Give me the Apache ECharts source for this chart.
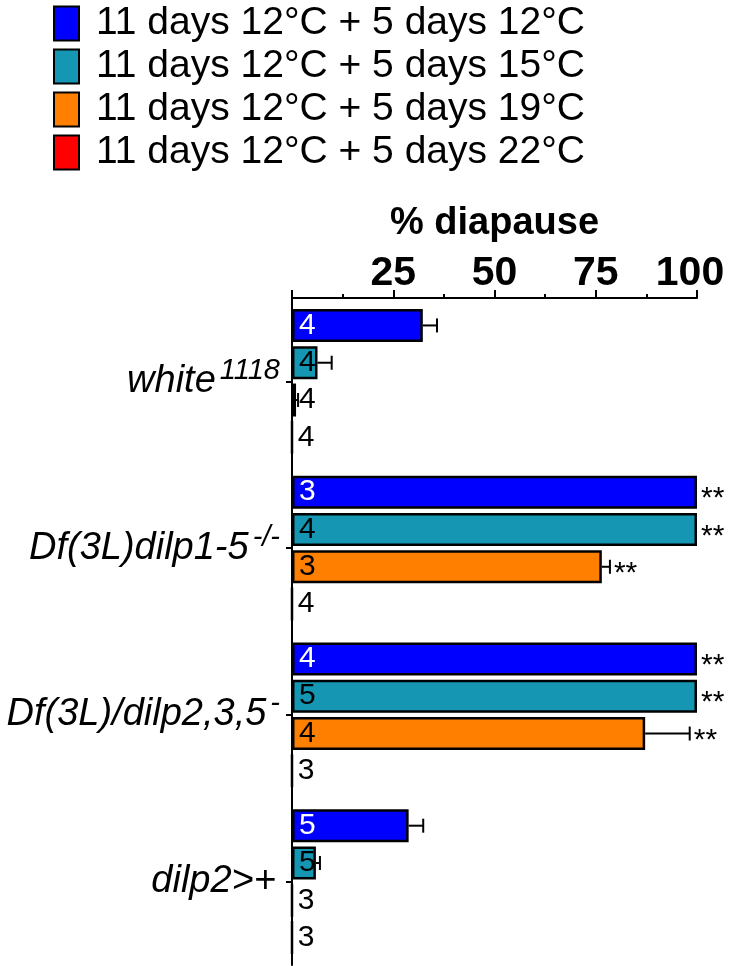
<!DOCTYPE html>
<html>
<head>
<meta charset="utf-8">
<script src="https://cdn.jsdelivr.net/npm/echarts@6/dist/echarts.min.js"></script>
<style>
  html, body { margin: 0; padding: 0; background: #fff; }
  #chart { width: 729px; height: 966px; }
</style>
</head>
<body>
<div id="chart"></div>
<script>
// genotypes (label + superscript)
var catNames = ['white', 'Df(3L)dilp1-5', 'Df(3L)/dilp2,3,5', 'dilp2>+'];
var catSups = ['1118', '-/-', '-', ''];

var seriesNames = [
  '11 days 12°C + 5 days 12°C',
  '11 days 12°C + 5 days 15°C',
  '11 days 12°C + 5 days 19°C',
  '11 days 12°C + 5 days 22°C'
];

// % diapause
var d12 = [32.3, 100, 100, 28.8];
var d15 = [6.3, 100, 100, 5.9];
var d19 = [1.0, 76.5, 87.2, 0];
var d22 = [0, 0, 0, 0];

// SEM
var e12 = [3.5, 0, 0, 3.6];
var e15 = [3.5, 0, 0, 1.0];
var e19 = [0.5, 2.0, 11.0, 0];
var e22 = [0, 0, 0, 0];

// n per bar
var n12 = [4, 3, 4, 5];
var n15 = [4, 4, 5, 5];
var n19 = [4, 3, 4, 3];
var n22 = [4, 4, 3, 3];

// significance marks
var s12 = ['', '**', '**', ''];
var s15 = ['', '**', '**', ''];
var s19 = ['', '**', '**', ''];
var s22 = ['', '', '', ''];

var xTicks = [0, 25, 50, 75, 100];

var colors = ['#0000ff', '#1597b3', '#ff8000', '#ff0000'];
var labelColors = ['#ffffff', '#000000', '#000000', '#000000'];

var FONT = '"Liberation Sans", Arial, Helvetica, sans-serif';
var BAR_W = 33;
var BAR_GAP = 0.13;

var values = [d12, d15, d19, d22];
var errs = [e12, e15, e19, e22];
var ns = [n12, n15, n19, n22];
var sigs = [s12, s15, s19, s22];

function barOffset(i) {
  var pitch = BAR_W * (1 + BAR_GAP);
  var total = 4 * BAR_W + 3 * BAR_W * BAR_GAP;
  return -total / 2 + i * pitch + BAR_W / 2;
}

var series = [];
values.forEach(function (vals, i) {
  series.push({
    name: seriesNames[i],
    type: 'bar',
    barWidth: BAR_W,
    barGap: (BAR_GAP * 100) + '%',
    data: vals,
    itemStyle: { color: colors[i], borderColor: '#000', borderWidth: 2.5 },
    label: {
      show: true,
      position: 'insideLeft',
      distance: 7,
      color: labelColors[i],
      fontFamily: FONT,
      fontSize: 30,
      formatter: function (p) { return String(ns[i][p.dataIndex]); }
    },
    emphasis: { disabled: true },
    z: 2
  });
});

// error bars and significance
var errData = [];
values.forEach(function (vals, i) {
  vals.forEach(function (v, j) {
    errData.push([v, j, errs[i][j], i, sigs[i][j]]);
  });
});

series.push({
  type: 'custom',
  data: errData,
  encode: { x: 0, y: 1 },
  z: 3,
  silent: true,
  renderItem: function (params, api) {
    var v = api.value(0);
    var cat = api.value(1);
    var err = api.value(2);
    var si = api.value(3);
    var sig = errData[params.dataIndex][4];
    var p0 = api.coord([v, cat]);
    var p1 = api.coord([v + err, cat]);
    var y = p0[1] + barOffset(si);
    var children = [];
    if (err > 0) {
      children.push({
        type: 'line',
        shape: { x1: p0[0], y1: y, x2: p1[0], y2: y },
        style: { stroke: '#000', lineWidth: 2 }
      });
      children.push({
        type: 'line',
        shape: { x1: p1[0], y1: y - 7, x2: p1[0], y2: y + 7 },
        style: { stroke: '#000', lineWidth: 2 }
      });
    }
    if (sig) {
      children.push({
        type: 'text',
        style: {
          text: sig,
          x: p1[0] + 4,
          y: y + 7,
          align: 'left',
          verticalAlign: 'middle',
          fill: '#000',
          font: '30px ' + FONT
        }
      });
    }
    return { type: 'group', children: children };
  }
});

var chart = echarts.init(document.getElementById('chart'), null, { renderer: 'canvas' });
chart.setOption({
  animation: false,
  backgroundColor: '#fff',
  textStyle: { fontFamily: FONT },
  legend: {
    orient: 'vertical',
    left: 53,
    top: 4,
    padding: 0,
    itemWidth: 25,
    itemHeight: 34,
    itemGap: 4,
    icon: 'rect',
    selectedMode: false,
    data: seriesNames,
    textStyle: {
      fontFamily: FONT,
      fontSize: 39,
      color: '#000',
      lineHeight: 37,
      padding: [0, 0, 0, 12]
    }
  },
  grid: {
    left: 292,
    right: 32,
    top: 298,
    bottom: 1,
    containLabel: false
  },
  xAxis: {
    type: 'value',
    position: 'top',
    min: xTicks[0],
    max: xTicks[xTicks.length - 1],
    interval: 25,
    name: '% diapause',
    nameLocation: 'middle',
    nameGap: 55,
    nameTextStyle: { fontFamily: FONT, fontSize: 38, fontWeight: 'bold', color: '#000' },
    axisLine: { show: true, lineStyle: { color: '#000', width: 2 } },
    axisTick: { show: true, length: 8, lineStyle: { color: '#000', width: 2 } },
    minorTick: { show: true, splitNumber: 2, length: 4, lineStyle: { color: '#000', width: 2 } },
    splitLine: { show: false },
    axisLabel: {
      margin: 4,
      color: '#000',
      formatter: function (v) {
        if (v === 0) return '';
        if (v === 100) return '{e|' + v + '}';
        return '{b|' + v + '}';
      },
      rich: {
        b: { fontFamily: FONT, fontSize: 41, fontWeight: 'bold', color: '#000' },
        e: { fontFamily: FONT, fontSize: 41, fontWeight: 'bold', color: '#000', padding: [0, 14, 0, 0] }
      }
    }
  },
  yAxis: {
    type: 'category',
    inverse: true,
    data: catNames,
    axisLine: { show: true, lineStyle: { color: '#000', width: 2 } },
    axisTick: { show: true, alignWithLabel: true, length: 6, lineStyle: { color: '#000', width: 2 } },
    splitLine: { show: false },
    axisLabel: {
      margin: 12,
      formatter: function (v, idx) {
        var s = '{m|' + catNames[idx] + '}';
        if (catSups[idx]) s += '{s|' + catSups[idx] + '}';
        return s;
      },
      rich: {
        m: { fontFamily: FONT, fontSize: 38, fontStyle: 'italic', color: '#000', lineHeight: 50, padding: [0, 4, 0, 0] },
        s: { fontFamily: FONT, fontSize: 29, fontStyle: 'italic', color: '#000', lineHeight: 20, verticalAlign: 'top' }
      }
    }
  },
  series: series
});
</script>
</body>
</html>
